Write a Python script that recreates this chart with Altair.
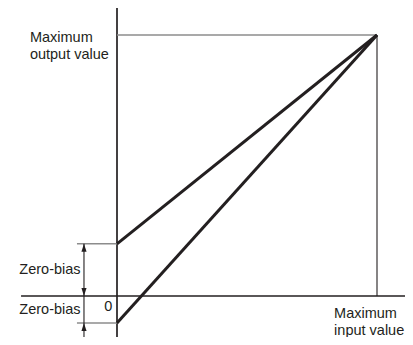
import altair as alt
import pandas as pd

# Diagram values (normalised units: origin = 0, maximum = 1)
input_max = 1.0
output_max = 1.0
zero_bias_upper = 0.2
zero_bias_lower = -0.103

line_names = ["positive bias", "negative bias"]
line_start = [zero_bias_upper, zero_bias_lower]

label_texts = ["Maximum\noutput value", "Maximum\ninput value", "Zero-bias", "Zero-bias", "0"]

DARK = "#231f20"
GRAY = "#8c8c8c"
FONT = "Liberation Sans"

W, H = 397, 329
xdom = [-109 / 260, (W - 109) / 260]
ydom = [(288 - H) / 261, 288 / 261]
xs = alt.Scale(domain=xdom, nice=False, zero=False)
ys = alt.Scale(domain=ydom, nice=False, zero=False)

arrow_x = -0.127
tick_x = -0.154

segs = pd.DataFrame([
    # axes
    dict(x=0, x2=0, y=ydom[1], y2=ydom[0], c=DARK, w=1.7),
    dict(x=-0.369, x2=xdom[1], y=0, y2=0, c=DARK, w=1.7),
    # maximum guides
    dict(x=0, x2=input_max, y=output_max, y2=output_max, c=GRAY, w=1.5),
    dict(x=input_max, x2=input_max, y=0, y2=output_max, c=DARK, w=1.1),
    # zero-bias ticks
    dict(x=tick_x, x2=0, y=zero_bias_upper, y2=zero_bias_upper, c=GRAY, w=1.5),
    dict(x=tick_x, x2=0, y=zero_bias_lower, y2=zero_bias_lower, c=GRAY, w=1.5),
    # arrow shafts
    dict(x=arrow_x, x2=arrow_x, y=zero_bias_upper, y2=ydom[0], c=DARK, w=1.1),
])

rules = alt.Chart(segs).mark_rule().encode(
    x=alt.X("x:Q", scale=xs, axis=None),
    x2="x2:Q",
    y=alt.Y("y:Q", scale=ys, axis=None),
    y2="y2:Q",
    color=alt.Color("c:N", scale=None),
    strokeWidth=alt.StrokeWidth("w:Q", scale=None),
)

lines_df = pd.DataFrame({
    "name": [n for n in line_names for _ in range(2)],
    "x": [0, input_max] * 2,
    "y": [v for s in line_start for v in (s, output_max)],
})
lines = alt.Chart(lines_df).mark_line(color=DARK, strokeWidth=3).encode(
    x=alt.X("x:Q", scale=xs, axis=None),
    y=alt.Y("y:Q", scale=ys, axis=None),
    detail="name:N",
)

up_df = pd.DataFrame({"x": [arrow_x, arrow_x], "y": [zero_bias_upper, zero_bias_lower]})
down_df = pd.DataFrame({"x": [arrow_x], "y": [0.0]})
UP = "M0,0 L-0.32,1 L0.32,1 Z"
DOWN = "M0,0 L-0.32,-1 L0.32,-1 Z"
up = alt.Chart(up_df).mark_point(shape=UP, size=256, filled=True, color=DARK, opacity=1, strokeWidth=0).encode(
    x=alt.X("x:Q", scale=xs, axis=None), y=alt.Y("y:Q", scale=ys, axis=None))
down = alt.Chart(down_df).mark_point(shape=DOWN, size=256, filled=True, color=DARK, opacity=1, strokeWidth=0).encode(
    x=alt.X("x:Q", scale=xs, axis=None), y=alt.Y("y:Q", scale=ys, axis=None))

labels = pd.DataFrame({
    "t": label_texts,
    "x": [-0.335, 0.835, -0.14, -0.14, -0.018],
    "y": [output_max - 0.027, -0.084, zero_bias_upper / 2, zero_bias_lower / 2 - 0.004, -0.042],
    "a": ["left", "left", "right", "right", "right"],
})

def text_layer(df, align, baseline):
    return alt.Chart(df).mark_text(
        align=align, baseline=baseline, font=FONT, fontSize=14.5, color=DARK, lineBreak="\n", lineHeight=17
    ).encode(
        x=alt.X("x:Q", scale=xs, axis=None),
        y=alt.Y("y:Q", scale=ys, axis=None),
        text="t:N",
    )

t1 = text_layer(labels[labels.a == "left"], "left", "alphabetic")
t2 = text_layer(labels[labels.a == "right"], "right", "middle")

chart = alt.layer(rules, lines, up, down, t1, t2).properties(
    width=W, height=H, padding=0, autosize=alt.AutoSizeParams(type="none")
).configure_view(stroke=None)

chart.save("out.html", embed_options={"renderer": "svg", "actions": False})
